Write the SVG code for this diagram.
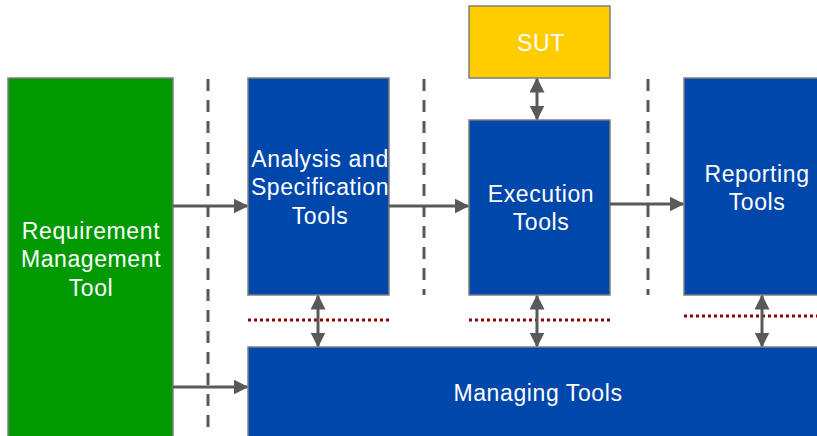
<svg xmlns="http://www.w3.org/2000/svg" width="817" height="436" viewBox="0 0 817 436">
<defs>
<style>
.box{stroke:#7f7f7f;stroke-width:1.5}
.blue{fill:#0047ab}
.t{font-family:"Liberation Sans",Arial,sans-serif;font-size:23px;letter-spacing:0.6px;fill:#fff;text-anchor:middle}
.sep{stroke:#595959;stroke-width:3;stroke-dasharray:12 9}
.dot{stroke:#8b0000;stroke-width:3;stroke-dasharray:3 3}
.ar{stroke:#595959;stroke-width:3;fill:none}
</style>
<marker id="ah" viewBox="0 0 10 10" refX="9" refY="5" markerWidth="5" markerHeight="5" orient="auto-start-reverse" markerUnits="strokeWidth">
<path d="M0,0 L10,5 L0,10 Z" fill="#595959"/>
</marker>
</defs>
<rect width="817" height="436" fill="#fff"/>
<g id="separators">
<line class="sep" x1="208" y1="79" x2="208" y2="436"/>
<line class="sep" x1="424" y1="79" x2="424" y2="295"/>
<line class="sep" x1="648" y1="79" x2="648" y2="295"/>
<line class="dot" x1="248" y1="320" x2="389" y2="320"/>
<line class="dot" x1="469" y1="320" x2="610" y2="320"/>
<line class="dot" x1="684" y1="316" x2="817" y2="316"/>
</g>
<g id="req">
<rect class="box" x="8" y="78" width="165" height="370" fill="#009900"/>
<text class="t" x="91" y="239">Requirement</text>
<text class="t" x="91" y="267">Management</text>
<text class="t" x="91" y="296">Tool</text>
</g>
<g id="analysis">
<rect class="box blue" x="248" y="78" width="141" height="217"/>
<text class="t" x="320" y="167">Analysis and</text>
<text class="t" x="320" y="195">Specification</text>
<text class="t" x="320" y="224">Tools</text>
</g>
<g id="sut">
<rect class="box" x="469" y="6" width="141" height="72" fill="#ffcc00"/>
<text class="t" x="541" y="51">SUT</text>
</g>
<g id="execution">
<rect class="box blue" x="469" y="120" width="141" height="175"/>
<text class="t" x="541" y="202">Execution</text>
<text class="t" x="541" y="230">Tools</text>
</g>
<g id="reporting">
<rect class="box blue" x="684" y="78" width="145" height="217"/>
<text class="t" x="757" y="182">Reporting</text>
<text class="t" x="757" y="210">Tools</text>
</g>
<g id="managing">
<rect class="box blue" x="248" y="347" width="580" height="100"/>
<text class="t" x="538" y="401">Managing Tools</text>
</g>
<g id="connectors">
<line class="ar" x1="173" y1="206" x2="247" y2="206" marker-end="url(#ah)"/>
<line class="ar" x1="389" y1="206" x2="468" y2="206" marker-end="url(#ah)"/>
<line class="ar" x1="610" y1="204" x2="683" y2="204" marker-end="url(#ah)"/>
<line class="ar" x1="173" y1="387" x2="247" y2="387" marker-end="url(#ah)"/>
<line class="ar" x1="318" y1="296" x2="318" y2="346" marker-start="url(#ah)" marker-end="url(#ah)"/>
<line class="ar" x1="537" y1="79" x2="537" y2="119" marker-start="url(#ah)" marker-end="url(#ah)"/>
<line class="ar" x1="537" y1="296" x2="537" y2="346" marker-start="url(#ah)" marker-end="url(#ah)"/>
<line class="ar" x1="762" y1="296" x2="762" y2="346" marker-start="url(#ah)" marker-end="url(#ah)"/>
</g>
</svg>
